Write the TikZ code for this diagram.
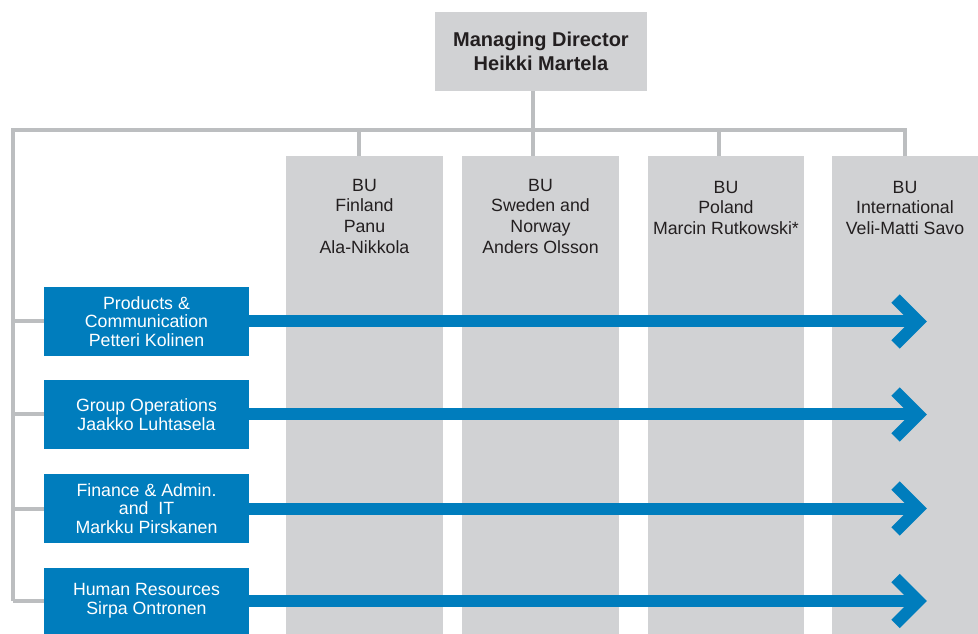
\documentclass[tikz,border=0pt]{standalone}
\usepackage{fontspec}
\setmainfont{Liberation Sans}

\definecolor{boxgray}{HTML}{D1D2D4}
\definecolor{linegray}{HTML}{BCBEC0}
\definecolor{unitblue}{HTML}{007DBD}
\definecolor{inkgray}{HTML}{231F20}

\begin{document}
\begin{tikzpicture}[x=0.75pt, y=-0.75pt,
    orgline/.style={draw=linegray, line width=3pt},
    bubox/.style={rectangle, fill=boxgray, anchor=north, minimum height=358.5pt, inner sep=0pt},
    butext/.style={anchor=north, align=center, inner sep=0pt, yshift=-17pt, text=inkgray,
        font=\fontsize{13.3pt}{15.5pt}\selectfont},
    staff/.style={rectangle, fill=unitblue, text=white, align=center, minimum width=153.75pt,
        minimum height=51.75pt, inner sep=0pt, font=\fontsize{13.3pt}{14pt}\selectfont},
    flow/.style={draw=unitblue, line width=9pt}]
				\useasboundingbox (0,0) rectangle (978,634);

				% Managing director
				\node[rectangle, fill=boxgray, minimum width=159pt, minimum height=59.25pt, align=center, text=inkgray,
				    font=\bfseries\fontsize{15pt}{18pt}\selectfont] (md) at (541,51.5) {Managing Director\\Heikki Martela};

				% Business units
				\node[bubox, minimum width=117.75pt, label={[butext]north:{BU\\Finland\\Panu\\Ala-Nikkola}}] (finland) at (364.5,156) {};
				\node[bubox, minimum width=117.75pt, label={[butext]north:{BU\\Sweden and\\Norway\\Anders Olsson}}] (sweden) at (540.5,156) {};
				\node[bubox, minimum width=117pt, label={[butext, yshift=-1.5pt]north:{BU\\Poland\\Marcin Rutkowski*}}] (poland) at (726,156) {};
				\node[bubox, minimum width=109.5pt, label={[butext, yshift=-1.5pt]north:{BU\\International\\Veli-Matti Savo}}] (intl) at (905,156) {};

				% Group functions
				\node[staff] (products) at (146.5,321.5) {Products \&\\Communication\\Petteri Kolinen};
				\node[staff] (operations) at (146.5,414.5) {Group Operations\\Jaakko Luhtasela};
				\node[staff] (finance) at (146.5,508.5) {Finance \& Admin.\\and~~IT\\Markku Pirskanen};
				\node[staff, minimum height=49.5pt] (hr) at (146.5,601) {Human Resources\\Sirpa Ontronen};

				% Reporting lines
				\coordinate (hub) at (533,130);
				\coordinate (spine) at (13,130);
				\draw[orgline] (md.south -| hub) -- (sweden.north -| hub);
				\draw[orgline] (hr.west -| spine) -- (spine) -- (intl.north |- spine) -- (intl.north);
				\draw[orgline] ([xshift=-4pt]finland.north) -- ([xshift=-4pt]finland.north |- spine);
				\draw[orgline] ([xshift=-5pt]poland.north) -- ([xshift=-5pt]poland.north |- spine);
				\foreach \n in {products, operations, finance, hr}
				    \draw[orgline] (\n.west -| spine) -- (\n.west);

				% Arrows across the units
				\coordinate (tip) at (918.5,0);
				\foreach \n in {products, operations, finance, hr} {
				    \draw[flow] (\n.east) -- (\n.east -| tip);
				    \draw[flow, line join=miter] (\n.east -| tip) ++(-23,-23) -- (\n.east -| tip) -- ++(-23,23);
				}
			\end{tikzpicture}
\end{document}
